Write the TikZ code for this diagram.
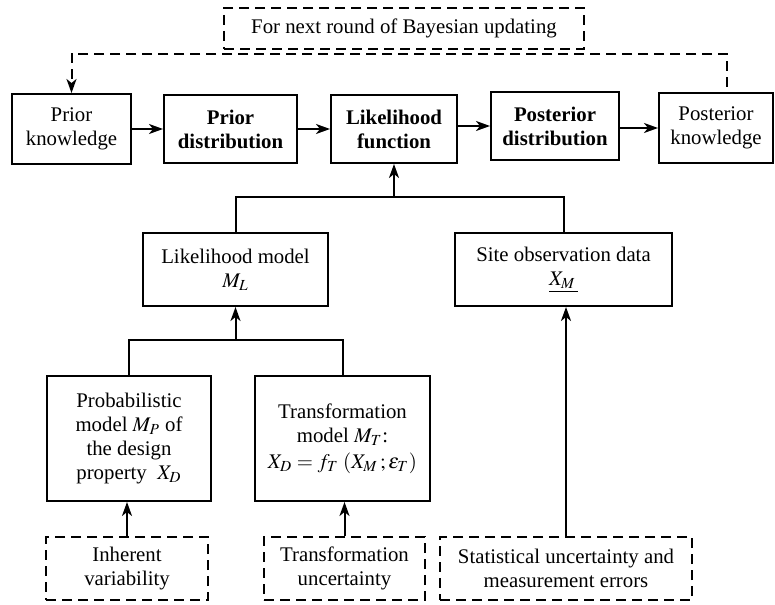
\documentclass[tikz,border=0pt]{standalone}
\usepackage{mathptmx}
\usepackage[no-math]{fontspec}
\setmainfont{Liberation Serif}
\usetikzlibrary{arrows.meta}
\begin{document}
\begin{tikzpicture}[x=0.5pt,y=-0.5pt,
    box/.style={draw=black,line width=1pt,fill=white,shape=rectangle,align=center,inner sep=0pt,
      font=\fontsize{10.4pt}{12pt}\selectfont},
    dbox/.style={box,dash pattern=on 5pt off 3pt},
    link/.style={line width=1pt,-{Stealth[length=7pt,width=5pt,inset=2pt]}},
    fb/.style={link,dash pattern=on 5pt off 3pt}]
    \useasboundingbox (0,0) rectangle (775,604);
    % top row
    \node[dbox,minimum width=180pt,minimum height=20.5pt] (next) at (404,28.5) {For next round of Bayesian updating};
    \node[box,minimum width=59.5pt,minimum height=35pt] (pk) at (71.5,129) {Prior\\knowledge};
    \node[box,minimum width=66.5pt,minimum height=34pt] (pd) at (230.5,129) {\textbf{Prior}\\\textbf{distribution}};
    \node[box,minimum width=63pt,minimum height=34pt] (lf) at (394,129) {\textbf{Likelihood}\\\textbf{function}};
    \node[box,minimum width=64pt,minimum height=34pt] (qd) at (555,126) {\textbf{Posterior}\\\textbf{distribution}};
    \node[box,minimum width=57pt,minimum height=35pt] (qk) at (716,128) {Posterior\\knowledge};
    % middle row
    \node[box,minimum width=92.5pt,minimum height=36.5pt] (lm) at (235.5,269.5) {Likelihood model\\$M_L$};
    \node[box,minimum width=108.5pt,minimum height=36.5pt] (so) at (563.5,269.5) {Site observation data\\$\underline{X_{M}\,}$};
    % models
    \node[box,minimum width=82pt,minimum height=62.5pt] (pm) at (129,438.5) {Probabilistic\\model $M_P$ of\\the design\\property~ $X_D$};
    \node[box,minimum width=87.5pt,minimum height=62.5pt] (tm) at (342.5,438.5) {Transformation\\model $M_T$:\\[1pt]$X_D=f_T\;(X_M\,;\varepsilon_T)$};
    % sources of uncertainty
    \node[dbox,minimum width=81pt,minimum height=31.5pt] (iv) at (127,568.5) {Inherent\\variability};
    \node[dbox,minimum width=80.5pt,minimum height=31.5pt] (tu) at (344.5,568.5) {Transformation\\uncertainty};
    \node[dbox,minimum width=126pt,minimum height=31.5pt] (su) at (566,568.5) {Statistical uncertainty and\\measurement errors};
    \coordinate (fbend) at (727,87);
    \coordinate (fbtop) at (400,54);
    \coordinate (j1) at (394,197);
    \coordinate (j2) at (235.5,340);
    \draw[fb] (fbend) |- (fbtop) -| (pk.north);
    \draw[link] (pk) -- (pd);
    \draw[link] (pd) -- (lf);
    \draw[link] (lf.east |- qd) -- (qd);
    \draw[link] (qd.east |- qk) -- (qk);
    \draw[line width=1pt] (lm.north) |- (j1) -| (so.north);
    \draw[link] (j1) -- (lf.south);
    \draw[line width=1pt] (pm.north) |- (j2) -| (tm.north);
    \draw[link] (j2) -- (lm.south);
    \draw[link] (iv.north) -- (iv.north |- pm.south);
    \draw[link] (tu.north) -- (tu.north |- tm.south);
    \draw[link] (su.north) -- (su.north |- so.south);
\end{tikzpicture}
\end{document}
